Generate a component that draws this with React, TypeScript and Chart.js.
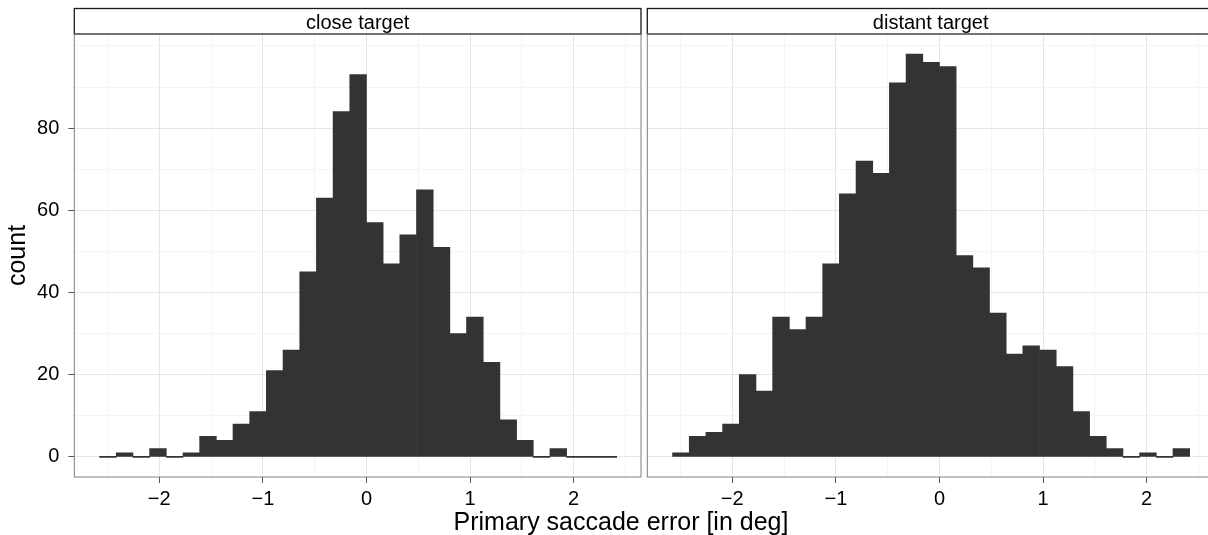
import React, { useEffect, useRef } from 'react';
import { Chart, registerables } from 'chart.js';

Chart.register(...registerables);

// Histogram bins (left edges, degrees) shared by both facets
const BIN_WIDTH = 0.161;
const binStarts = [
  -2.576, -2.415, -2.254, -2.093, -1.932, -1.771, -1.61, -1.449, -1.288, -1.127,
  -0.966, -0.805, -0.644, -0.483, -0.322, -0.161, 0, 0.161, 0.322, 0.483,
  0.644, 0.805, 0.966, 1.127, 1.288, 1.449, 1.61, 1.771, 1.932, 2.093, 2.254,
];

// Counts per bin
const closeCounts = [
  0, 1, 0, 2, 0, 1, 5, 4, 8, 11,
  21, 26, 45, 63, 84, 93, 57, 47, 54, 65,
  51, 30, 34, 23, 9, 4, 0, 2, 0, 0, 0,
];
const distantCounts = [
  1, 5, 6, 8, 20, 16, 34, 31, 34, 47,
  64, 72, 69, 91, 98, 96, 95, 49, 46, 35,
  25, 27, 26, 22, 11, 5, 2, 0, 1, 0, 2,
];

// Axis breaks and labels
const xGrid = [-2.5, -2, -1.5, -1, -0.5, 0, 0.5, 1, 1.5, 2, 2.5];
const xMajor = [-2, -1, 0, 1, 2];
const xTickLabels = ['\u22122', '\u22121', '0', '1', '2'];
const yGrid = [0, 10, 20, 30, 40, 50, 60, 70, 80, 90, 100];
const yMajor = [0, 20, 40, 60, 80];
const yTickLabels = ['0', '20', '40', '60', '80'];
const facetLabels = ['close target', 'distant target'];

const X_MIN = -2.82;
const X_MAX = 2.65;
const Y_MIN = -4.9;
const Y_MAX = 102.9;

const FONT = '"Liberation Sans", Arial, Helvetica, sans-serif';
const GRID_MAJOR = '#e6e6e6';
const GRID_MINOR = '#f4f4f4';
const TICK_COLOR = '#555555';
const BORDER_COLOR = '#7f7f7f';
const BAR_COLOR = '#333333';

const near = (list: number[], v: any) =>
  typeof v === 'number' ? list.findIndex((m) => Math.abs(m - v) < 1e-9) : -1;

const tickValue = (ctx: any) => (ctx && ctx.tick ? ctx.tick.value : undefined);

// Draws the facet strip, the panel border and (optionally) the y-axis title
const facetFrame = {
  id: 'facetFrame',
  afterDatasetsDraw(chart: any, _args: any, opts: any) {
    const { ctx, chartArea: a } = chart;
    const stripTop = 8.5;
    ctx.save();
    ctx.fillStyle = '#ffffff';
    ctx.fillRect(a.left, stripTop, a.right - a.left, a.top - stripTop);
    ctx.strokeStyle = '#1a1a1a';
    ctx.lineWidth = 1.3;
    ctx.strokeRect(a.left, stripTop, a.right - a.left, a.top - stripTop);

    ctx.fillStyle = '#000000';
    ctx.font = `20px ${FONT}`;
    ctx.textAlign = 'center';
    ctx.textBaseline = 'alphabetic';
    ctx.fillText(opts.label, (a.left + a.right) / 2, 29.3);

    ctx.strokeStyle = BORDER_COLOR;
    ctx.lineWidth = 1;
    ctx.strokeRect(a.left, a.top, a.right - a.left, a.bottom - a.top);

    if (opts.yTitle) {
      ctx.translate(25, (a.top + a.bottom) / 2);
      ctx.rotate(-Math.PI / 2);
      ctx.font = `25px ${FONT}`;
      ctx.fillStyle = '#000000';
      ctx.textAlign = 'center';
      ctx.textBaseline = 'alphabetic';
      ctx.fillText(opts.yTitle, 0, 0);
    }
    ctx.restore();
  },
};

type PanelProps = {
  label: string;
  counts: number[];
  showY: boolean;
  left: number;
  width: number;
  areaLeft: number;
  padRight: number;
};

function FacetPanel({ label, counts, showY, left, width, areaLeft, padRight }: PanelProps) {
  const ref = useRef<HTMLCanvasElement>(null);

  useEffect(() => {
    const canvas = ref.current;
    if (!canvas) return;
    const chart = new Chart(canvas, {
      type: 'bar',
      data: {
        datasets: [
          {
            data: binStarts.map((s, i) => ({ x: s + BIN_WIDTH / 2, y: counts[i] })),
            backgroundColor: BAR_COLOR,
            borderWidth: 0,
            barPercentage: 1,
            categoryPercentage: 1,
            minBarLength: 1,
          },
        ],
      },
      options: {
        responsive: false,
        animation: false,
        devicePixelRatio: 1,
        layout: { padding: { top: 34, right: padRight, left: 0, bottom: 0 } },
        plugins: {
          legend: { display: false },
          tooltip: { enabled: false },
          title: { display: false },
          facetFrame: { label, yTitle: showY ? 'count' : null },
        } as any,
        scales: {
          x: {
            type: 'linear',
            offset: false,
            min: X_MIN,
            max: X_MAX,
            afterBuildTicks: (scale: any) => {
              scale.ticks = xGrid.map((v) => ({ value: v }));
            },
            afterFit: (scale: any) => {
              scale.height = 58;
            },
            border: { display: false },
            grid: {
              offset: false,
              color: (ctx: any) => (near(xMajor, tickValue(ctx)) >= 0 ? GRID_MAJOR : GRID_MINOR),
              tickColor: (ctx: any) =>
                near(xMajor, tickValue(ctx)) >= 0 ? TICK_COLOR : 'rgba(0,0,0,0)',
              lineWidth: 1,
              tickLength: 6,
              drawTicks: true,
            },
            ticks: {
              autoSkip: false,
              maxRotation: 0,
              minRotation: 0,
              padding: 4,
              color: '#000000',
              font: { family: FONT, size: 20 },
              callback: (v: any) => {
                const i = near(xMajor, Number(v));
                return i >= 0 ? xTickLabels[i] : '';
              },
            },
          },
          y: {
            type: 'linear',
            min: Y_MIN,
            max: Y_MAX,
            afterBuildTicks: (scale: any) => {
              scale.ticks = yGrid.map((v) => ({ value: v }));
            },
            afterFit: (scale: any) => {
              scale.width = areaLeft;
            },
            border: { display: false },
            grid: {
              color: (ctx: any) => (near(yMajor, tickValue(ctx)) >= 0 ? GRID_MAJOR : GRID_MINOR),
              tickColor: (ctx: any) =>
                near(yMajor, tickValue(ctx)) >= 0 ? TICK_COLOR : 'rgba(0,0,0,0)',
              lineWidth: 1,
              tickLength: 6,
              drawTicks: showY,
            },
            ticks: {
              display: showY,
              autoSkip: false,
              padding: 9,
              color: '#000000',
              font: { family: FONT, size: 20 },
              callback: (v: any) => {
                const i = near(yMajor, Number(v));
                return i >= 0 ? yTickLabels[i] : '';
              },
            },
          },
        },
      },
      plugins: [facetFrame],
    } as any);
    return () => chart.destroy();
  }, [label, counts, showY, areaLeft, padRight]);

  return (
    <canvas
      ref={ref}
      width={width}
      height={535}
      style={{ position: 'absolute', left, top: 0, width, height: 535 }}
    />
  );
}

export default function App() {
  return (
    <div
      style={{
        position: 'fixed',
        left: 0,
        top: 0,
        width: 1208,
        height: 535,
        overflow: 'hidden',
        background: '#ffffff',
      }}
    >
      <FacetPanel
        label={facetLabels[0]}
        counts={closeCounts}
        showY={true}
        left={0}
        width={645}
        areaLeft={74.3}
        padRight={4}
      />
      <FacetPanel
        label={facetLabels[1]}
        counts={distantCounts}
        showY={false}
        left={645}
        width={572}
        areaLeft={2.3}
        padRight={3}
      />
      <div
        style={{
          position: 'absolute',
          left: 621,
          top: 508.8,
          transform: 'translateX(-50%)',
          fontFamily: FONT,
          fontSize: 25,
          lineHeight: '25px',
          whiteSpace: 'nowrap',
          color: '#000000',
        }}
      >
        Primary saccade error [in deg]
      </div>
    </div>
  );
}
